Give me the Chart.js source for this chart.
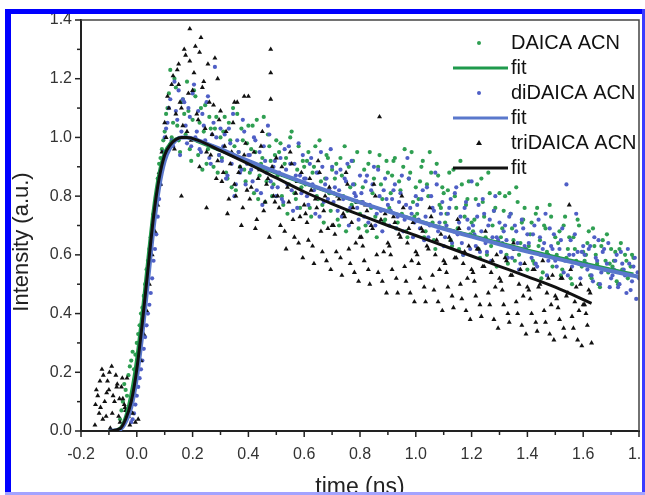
<!DOCTYPE html>
<html><head><meta charset="utf-8">
<script src="https://cdn.jsdelivr.net/npm/chart.js@4/dist/chart.umd.min.js"></script>
<style>html,body{margin:0;padding:0;background:#fff}#wrap{position:relative;width:645px;height:495px}</style>
</head><body><div id="wrap"><canvas id="c" width="645" height="495"></canvas></div>
<script>
// time axis of scan A (ns)
const timeNs = [-0.15,-0.14,-0.13,-0.12,-0.11,-0.10,-0.09,-0.08,-0.07,-0.06,-0.05,-0.04,-0.03,-0.02,-0.01,
0.00,0.01,0.02,0.03,0.04,0.05,0.06,0.07,0.08,0.09,0.10,0.11,0.12,0.13,0.14,0.15,0.16,0.17,0.18,0.19,
0.20,0.21,0.22,0.23,0.24,0.25,0.26,0.27,0.28,0.29,0.30,0.31,0.32,0.33,0.34,0.35,0.36,0.37,0.38,0.39,
0.40,0.41,0.42,0.43,0.44,0.45,0.46,0.47,0.48,0.49,0.50,0.51,0.52,0.53,0.54,0.55,0.56,0.57,0.58,0.59,
0.60,0.61,0.62,0.63,0.64,0.65,0.66,0.67,0.68,0.69,0.70,0.71,0.72,0.73,0.74,0.75,0.76,0.77,0.78,0.79,
0.80,0.81,0.82,0.83,0.84,0.85,0.86,0.87,0.88,0.89,0.90,0.91,0.92,0.93,0.94,0.95,0.96,0.97,0.98,0.99,
1.00,1.01,1.02,1.03,1.04,1.05,1.06,1.07,1.08,1.09,1.10,1.11,1.12,1.13,1.14,1.15,1.16,1.17,1.18,1.19,
1.20,1.21,1.22,1.23,1.24,1.25,1.26,1.27,1.28,1.29,1.30,1.31,1.32,1.33,1.34,1.35,1.36,1.37,1.38,1.39,
1.40,1.41,1.42,1.43,1.44,1.45,1.46,1.47,1.48,1.49,1.50,1.51,1.52,1.53,1.54,1.55,1.56,1.57,1.58,1.59,
1.60,1.61,1.62,1.63,1.64,1.65,1.66,1.67,1.68,1.69,1.70,1.71,1.72,1.73,1.74,1.75,1.76,1.77,1.78,1.79,1.80];

// time axis of scan B (ns)
const timeNsB = [-0.145,-0.135,-0.125,-0.115,-0.105,-0.095,-0.085,-0.075,-0.065,-0.055,-0.045,-0.035,-0.025,-0.015,-0.005,
0.005,0.015,0.025,0.035,0.045,0.055,0.065,0.075,0.085,0.095,0.105,0.115,0.125,0.135,0.145,0.155,0.165,0.175,0.185,0.195,
0.205,0.215,0.225,0.235,0.245,0.255,0.265,0.275,0.285,0.295,0.305,0.315,0.325,0.335,0.345,0.355,0.365,0.375,0.385,0.395,
0.405,0.415,0.425,0.435,0.445,0.455,0.465,0.475,0.485,0.495,0.505,0.515,0.525,0.535,0.545,0.555,0.565,0.575,0.585,0.595,
0.605,0.615,0.625,0.635,0.645,0.655,0.665,0.675,0.685,0.695,0.705,0.715,0.725,0.735,0.745,0.755,0.765,0.775,0.785,0.795,
0.805,0.815,0.825,0.835,0.845,0.855,0.865,0.875,0.885,0.895,0.905,0.915,0.925,0.935,0.945,0.955,0.965,0.975,0.985,0.995,
1.005,1.015,1.025,1.035,1.045,1.055,1.065,1.075,1.085,1.095,1.105,1.115,1.125,1.135,1.145,1.155,1.165,1.175,1.185,1.195,
1.205,1.215,1.225,1.235,1.245,1.255,1.265,1.275,1.285,1.295,1.305,1.315,1.325,1.335,1.345,1.355,1.365,1.375,1.385,1.395,
1.405,1.415,1.425,1.435,1.445,1.455,1.465,1.475,1.485,1.495,1.505,1.515,1.525,1.535,1.545,1.555,1.565,1.575,1.585,1.595,
1.605,1.615,1.625,1.635,1.645,1.655,1.665,1.675,1.685,1.695,1.705,1.715,1.725,1.735,1.745,1.755,1.765,1.775,1.785,1.795];

const daicaACN = [null,null,null,null,null,null,null,null,null,
0.04,0.10,0.14,0.19,0.24,0.21,
0.30,0.36,0.42,0.50,0.58,0.66,0.74,0.80,0.91,0.96,
1.02,1.10,1.23,1.05,1.17,0.99,1.12,1.08,1.19,0.96,
1.06,1.14,0.94,1.10,1.02,0.91,1.07,0.97,1.03,0.88,1.00,
1.02,0.88,1.05,0.83,0.97,1.08,0.90,0.99,0.85,1.04,
0.96,0.81,1.06,0.87,0.93,0.78,1.01,0.92,0.84,0.99,
0.95,0.80,0.91,0.74,1.00,0.86,0.79,0.97,0.83,0.90,
0.92,0.76,0.88,0.97,0.79,0.85,0.71,0.94,0.81,0.89,
0.86,0.72,0.93,0.80,0.68,0.90,0.77,0.84,0.95,0.74,
0.83,0.70,0.91,0.76,0.86,0.66,0.94,0.79,0.72,0.88,
0.81,0.92,0.69,0.85,0.74,0.96,0.66,0.88,0.78,0.83,
0.79,0.90,0.66,0.84,0.95,0.71,0.62,0.87,0.76,0.81,
0.74,0.88,0.63,0.80,0.69,0.92,0.60,0.77,0.85,0.71,
0.72,0.84,0.59,0.78,0.66,0.88,0.63,0.75,0.56,0.81,
0.69,0.80,0.57,0.74,0.65,0.83,0.60,0.71,0.76,0.55,
0.67,0.58,0.74,0.63,0.52,0.70,0.61,0.77,0.56,0.66,
0.64,0.53,0.70,0.59,0.66,0.50,0.62,0.72,0.57,0.61,
0.60,0.68,0.52,0.63,0.57,0.49,0.65,0.58,0.54,0.62,
0.58,0.51,0.62,0.55,0.60,0.52,0.56,0.59,null,null];

const daicaACN_B = [null,null,null,null,null,null,null,null,null,
0.07,0.16,0.12,0.22,0.27,0.26,0.33,0.40,0.46,0.55,
0.62,0.70,0.78,0.86,0.93,0.99,1.08,1.15,1.00,1.20,
1.04,0.95,1.13,1.01,1.09,0.92,1.16,0.99,1.05,0.89,
1.11,0.96,1.03,0.90,1.07,0.94,
0.93,1.07,0.86,0.99,1.10,0.82,0.95,1.03,0.89,0.98,
0.88,1.04,0.95,0.79,0.91,1.07,0.85,0.97,0.80,0.94,
0.87,0.98,0.77,0.93,0.84,1.02,0.81,0.89,0.76,0.92,
0.84,0.95,0.73,0.90,0.80,0.99,0.77,0.86,0.93,0.75,
0.81,0.91,0.70,0.87,0.97,0.75,0.83,0.92,0.78,0.69,
0.78,0.89,0.68,0.95,0.81,0.73,0.90,0.84,0.71,0.92,
0.76,0.87,0.93,0.71,0.82,0.90,0.68,0.86,0.95,0.73,
0.74,0.85,0.92,0.68,0.80,0.88,0.65,0.91,0.77,0.83,
0.71,0.82,0.65,0.89,0.76,0.62,0.84,0.73,0.79,0.67,
0.68,0.79,0.62,0.86,0.73,0.60,0.81,0.70,0.76,0.64,
0.66,0.75,0.60,0.81,0.69,0.58,0.78,0.64,0.72,0.62,
0.63,0.71,0.57,0.76,0.65,0.54,0.69,0.60,0.73,0.59,
0.60,0.68,0.55,0.73,0.62,0.52,0.66,0.58,0.70,0.56,
0.58,0.64,0.53,0.69,0.60,0.50,0.63,0.55,0.67,0.57,
0.56,0.61,0.50,0.64,0.54,0.58,0.53,0.60,null,null];

const diDaicaACN = [null,null,null,null,null,null,null,null,null,null,null,null,null,
0.03,0.06,
0.12,0.18,0.24,0.32,0.40,0.47,0.58,0.67,0.79,0.90,
1.00,1.05,1.13,0.97,1.09,1.16,1.02,1.12,0.98,1.07,
1.15,1.00,1.09,0.95,1.04,1.12,0.93,1.01,1.24,0.96,1.03,
0.97,0.86,1.03,0.91,0.80,0.99,0.88,1.06,0.84,0.94,
0.89,1.00,0.82,0.95,0.77,0.92,1.04,0.85,0.90,0.80,
0.88,0.79,0.96,0.84,0.91,0.75,0.87,0.98,0.81,0.86,
0.80,0.91,0.84,0.74,0.88,0.95,0.78,0.86,0.82,0.90,
0.83,0.75,0.89,0.79,0.85,0.70,0.92,0.81,0.76,0.87,
0.78,0.85,0.71,0.82,0.90,0.74,0.80,0.68,0.86,0.77,
0.75,0.82,0.69,0.78,0.87,0.72,0.93,0.76,0.66,0.80,
0.72,0.79,0.65,0.83,0.70,0.76,0.88,0.68,0.74,0.63,
0.70,0.76,0.64,0.81,0.67,0.73,0.60,0.78,0.69,0.85,
0.67,0.73,0.61,0.79,0.64,0.70,0.58,0.75,0.66,0.71,
0.64,0.70,0.59,0.74,0.62,0.68,0.55,0.72,0.63,0.67,
0.61,0.67,0.57,0.72,0.60,0.64,0.53,0.69,0.62,0.58,
0.59,0.65,0.54,0.84,0.60,0.56,0.67,0.61,0.52,0.63,
0.57,0.62,0.53,0.66,0.58,0.50,0.61,0.55,0.64,0.52,
0.55,0.60,0.50,0.57,0.53,0.62,0.48,0.56,0.45,0.52];

const diDaicaACN_B = [null,null,null,null,null,null,null,null,null,null,null,null,null,
0.04,0.09,0.15,0.21,0.28,0.36,0.43,0.52,0.62,0.73,
0.84,0.95,1.03,1.10,0.99,1.19,1.06,0.94,1.13,1.04,
1.10,0.97,1.18,1.02,0.96,1.08,0.99,1.14,0.91,1.05,
1.00,0.94,
0.92,1.01,0.87,0.98,1.08,0.84,0.95,0.89,1.02,0.91,
0.94,0.85,0.99,0.90,0.81,0.97,0.88,1.01,0.83,0.92,
0.83,0.93,0.78,0.89,0.97,0.82,0.91,0.76,0.87,0.94,
0.86,0.77,0.93,0.82,0.88,0.73,0.90,0.84,0.79,0.96,
0.78,0.88,0.82,0.73,0.86,0.91,0.76,0.84,0.80,0.72,
0.81,0.73,0.87,0.77,0.84,0.70,0.89,0.75,0.82,0.79,
0.70,0.79,0.84,0.73,0.81,0.68,0.77,0.86,0.74,0.71,
0.77,0.69,0.82,0.73,0.66,0.80,0.75,0.84,0.71,0.78,
0.66,0.74,0.79,0.68,0.83,0.71,0.64,0.76,0.72,0.62,
0.70,0.63,0.77,0.68,0.74,0.61,0.72,0.66,0.80,0.65,
0.61,0.68,0.65,0.73,0.59,0.70,0.64,0.57,0.69,0.62,
0.64,0.59,0.70,0.56,0.66,0.62,0.74,0.58,0.63,0.67,
0.56,0.62,0.69,0.58,0.53,0.65,0.60,0.74,0.57,0.61,
0.60,0.55,0.63,0.51,0.59,0.65,0.54,0.62,0.57,0.49,
0.53,0.58,0.49,0.61,0.55,0.47,0.57,0.51,0.59,0.54];

const triDaicaACN = [0.02,0.12,0.08,0.19,0.05,0.14,0.22,0.10,0.16,0.03,0.11,0.07,0.05,0.09,0.13,
0.20,0.30,0.38,0.47,0.56,0.63,0.74,0.80,0.88,0.95,
1.05,1.14,0.98,1.21,1.08,1.25,1.10,1.30,1.02,1.37,
1.16,1.31,1.06,1.34,1.19,0.95,1.12,1.01,1.27,0.92,1.09,
0.88,1.02,0.79,0.95,0.84,1.12,0.90,0.76,0.98,1.14,
0.83,0.95,0.72,0.89,1.02,0.78,0.86,1.30,0.80,0.93,
0.76,0.90,0.68,0.83,0.95,0.72,0.81,0.64,0.88,0.77,
0.71,0.86,0.63,0.79,0.92,0.68,0.75,0.58,0.83,0.70,
0.67,0.80,0.59,0.74,0.88,0.62,0.71,0.54,0.78,0.66,
0.63,0.77,0.55,0.70,0.84,0.60,1.07,0.51,0.74,0.64,
0.60,0.73,0.52,0.67,0.80,0.56,0.64,0.47,0.71,0.61,
0.57,0.69,0.49,0.63,0.76,0.53,0.60,0.44,0.67,0.58,
0.54,0.66,0.46,0.59,0.72,0.50,0.57,0.41,0.63,0.55,
0.51,0.62,0.43,0.56,0.68,0.47,0.54,0.38,0.60,0.52,
0.48,0.59,0.40,0.53,0.64,0.44,0.50,0.36,0.57,0.49,
0.45,0.55,0.37,0.49,0.60,0.41,0.47,0.33,0.53,0.46,
0.42,0.52,0.35,0.46,0.77,0.39,0.44,0.31,0.50,0.43,
0.40,0.48,0.30,null,null,null,null,null,null,null,null,null,null,null,null,null,null,null,null,null,null];

const triDaicaACN_B = [0.14,0.06,0.21,0.10,0.17,0.01,0.12,0.19,0.05,0.15,0.09,0.18,0.02,0.06,0.03,
0.04,0.24,0.33,0.41,0.50,0.60,0.68,0.77,0.84,0.92,
1.00,1.10,1.18,0.96,1.23,1.12,1.04,1.28,1.15,0.99,
1.22,1.08,0.90,1.17,1.03,1.25,0.94,1.11,0.86,1.06,
0.85,0.97,0.74,0.91,1.05,0.80,0.88,0.70,0.94,0.82,
0.79,0.91,0.69,0.86,0.97,0.75,0.84,0.66,0.90,0.78,
0.80,0.70,0.87,0.62,0.78,0.91,0.66,0.85,0.73,0.59,
0.74,0.65,0.82,0.57,0.76,0.88,0.61,0.80,0.69,0.55,
0.70,0.61,0.79,0.53,0.73,0.84,0.57,0.76,0.64,0.51,
0.66,0.58,0.75,0.50,0.69,0.80,0.54,0.72,0.61,0.47,
0.63,0.55,0.71,0.47,0.66,0.76,0.51,0.69,0.58,0.44,
0.60,0.52,0.68,0.44,0.62,0.73,0.48,0.65,0.55,0.41,
0.57,0.49,0.65,0.42,0.59,0.69,0.45,0.61,0.52,0.38,
0.54,0.46,0.62,0.39,0.56,0.65,0.43,0.58,0.49,0.35,
0.51,0.43,0.58,0.37,0.53,0.62,0.40,0.55,0.46,0.33,
0.48,0.40,0.55,0.34,0.50,0.58,0.37,0.52,0.43,0.31,
0.45,0.38,0.52,0.32,0.47,0.55,0.35,0.49,0.41,0.29,
0.43,0.36,0.47,null,null,null,null,null,null,null,null,null,null,null,null,null,null,null,null,null];

// additional triDAICA readings (baseline noise and outliers)
const triExtraT = [-0.148,-0.132,-0.122,-0.108,-0.098,-0.088,-0.072,-0.062,-0.052,-0.042,0.15,0.16,0.19,0.225,0.25,0.29,0.35,0.385,0.48,0.48];
const triExtraI = [0.09,0.17,0.04,0.13,0.20,0.06,0.15,0.11,0.18,0.08,1.18,0.80,1.26,1.29,0.76,1.20,1.12,1.14,1.22,1.13];

// fitted curves
const daicaFitT = [-0.10,-0.06,-0.04,-0.02,0.00,0.02,0.04,0.06,0.08,0.10,0.12,0.14,0.16,0.18,0.22,0.30,0.40,0.50,0.60,0.70,0.80,0.90,1.00,1.10,1.20,1.30,1.40,1.50,1.60,1.70,1.78];
const daicaFit  = [0.00,0.01,0.05,0.13,0.25,0.41,0.59,0.76,0.88,0.95,0.98,0.995,1.00,1.00,0.985,0.955,0.915,0.878,0.843,0.810,0.778,0.748,0.720,0.692,0.666,0.641,0.617,0.594,0.572,0.551,0.535];
const diDaicaFitT = [-0.10,-0.06,-0.04,-0.02,0.00,0.02,0.04,0.06,0.08,0.10,0.12,0.14,0.16,0.18,0.22,0.30,0.40,0.50,0.60,0.70,0.80,0.90,1.00,1.10,1.20,1.30,1.40,1.50,1.60,1.70,1.80];
const diDaicaFit  = [0.00,0.005,0.03,0.08,0.18,0.33,0.51,0.69,0.83,0.92,0.965,0.99,1.00,1.00,0.99,0.96,0.92,0.882,0.846,0.812,0.779,0.748,0.718,0.689,0.662,0.636,0.611,0.588,0.566,0.545,0.525];
const triDaicaFitT = [-0.10,-0.06,-0.04,-0.02,0.00,0.02,0.04,0.06,0.08,0.10,0.12,0.14,0.16,0.18,0.22,0.30,0.40,0.50,0.60,0.70,0.80,0.90,1.00,1.10,1.20,1.30,1.40,1.50,1.63];
const triDaicaFit  = [0.00,0.008,0.04,0.10,0.21,0.37,0.55,0.73,0.86,0.94,0.975,0.993,1.00,1.00,0.99,0.955,0.91,0.862,0.815,0.774,0.736,0.700,0.666,0.631,0.596,0.561,0.526,0.490,0.435];

const seriesLabels = ['DAICA ACN','fit','diDAICA ACN','fit','triDAICA ACN','fit'];
const xTicks = [-0.2,0.0,0.2,0.4,0.6,0.8,1.0,1.2,1.4,1.6,1.8];
const xMinorTicks = [-0.1,0.1,0.3,0.5,0.7,0.9,1.1,1.3,1.5,1.7];
const yTicks = [0.0,0.2,0.4,0.6,0.8,1.0,1.2,1.4];
const yMinorTicks = [0.1,0.3,0.5,0.7,0.9,1.1,1.3];
const xTitle = 'time (ns)';
const yTitle = 'Intensity (a.u.)';

function pts(ts, vs){ const out=[]; ts.forEach((t,i)=>{ if(vs[i]!==null && vs[i]!==undefined) out.push({x:t,y:vs[i]}); }); return out; }

const GREEN='#2f9f52', GREEN_FIT='#1f9a4c', BLUE='#4f5fc6', BLUE_FIT='#5a78cc', BLACK='#111111';
const FONT='"Liberation Sans", Arial, Helvetica, sans-serif';

const decor = {
  id:'decor',
  afterDraw(chart){
    const {ctx, chartArea:a, scales:{x,y}} = chart;
    ctx.save();
    ctx.strokeStyle='#444'; ctx.lineWidth=1.5;
    ctx.beginPath(); ctx.moveTo(a.left,a.top); ctx.lineTo(a.right,a.top); ctx.lineTo(a.right,a.bottom); ctx.stroke();
    ctx.strokeStyle='#222'; ctx.lineWidth=1.5;
    const seg=(x1,y1,x2,y2)=>{ctx.beginPath();ctx.moveTo(x1,y1);ctx.lineTo(x2,y2);ctx.stroke();};
    xTicks.forEach(v=>{const p=x.getPixelForValue(v); seg(p,a.bottom,p,a.bottom+6);});
    xMinorTicks.forEach(v=>{const p=x.getPixelForValue(v); seg(p,a.bottom,p,a.bottom+4);});
    yTicks.forEach(v=>{const p=y.getPixelForValue(v); seg(a.left-6,p,a.left,p);});
    yMinorTicks.forEach(v=>{const p=y.getPixelForValue(v); seg(a.left-4,p,a.left,p);});
    // legend
    const ds = chart.data.datasets.filter(d=>!d.hideInLegend);
    ctx.font = '20px '+FONT; ctx.textBaseline='middle'; ctx.textAlign='left';
    ds.forEach((d,i)=>{
      const ry = 43 + i*25;
      if(d.showLine){
        ctx.strokeStyle=d.borderColor; ctx.lineWidth=3;
        seg(453,ry,508,ry);
      } else if(d.pointStyle==='triangle'){
        ctx.fillStyle=d.backgroundColor;
        ctx.beginPath(); ctx.moveTo(479,ry-3); ctx.lineTo(482,ry+2); ctx.lineTo(476,ry+2); ctx.closePath(); ctx.fill();
      } else {
        ctx.fillStyle=d.backgroundColor;
        ctx.beginPath(); ctx.arc(479,ry,2,0,Math.PI*2); ctx.fill();
      }
      ctx.fillStyle='#111';
      ctx.fillText(d.label, 511, ry);
    });
    // axis titles
    ctx.fillStyle='#222';
    ctx.font='23px '+FONT; ctx.textAlign='center'; ctx.textBaseline='alphabetic';
    ctx.fillText(xTitle, (a.left+a.right)/2, 494);
    ctx.save(); ctx.translate(28,242); ctx.rotate(-Math.PI/2);
    ctx.font='22px '+FONT; ctx.fillText(yTitle,0,0); ctx.restore();
    // outer blue frame
    ctx.fillStyle='#0000ff';
    ctx.fillRect(5,9,6,486);
    ctx.fillRect(5,9,640,5);
    ctx.fillStyle='#3b3bff';
    ctx.fillRect(642,9,3,486);
    ctx.fillStyle='#a3a3ff';
    ctx.fillRect(5,492,640,3);
    ctx.restore();
  }
};

new Chart(document.getElementById('c'), {
  type:'scatter',
  data:{datasets:[
    {label:seriesLabels[0], data:pts(timeNs,daicaACN).concat(pts(timeNsB,daicaACN_B)), pointStyle:'circle', pointRadius:2.1, backgroundColor:GREEN, borderColor:GREEN, borderWidth:0, order:5},
    {label:seriesLabels[1], type:'line', data:pts(daicaFitT,daicaFit), showLine:true, borderColor:GREEN_FIT, borderWidth:3, pointRadius:0, fill:false, cubicInterpolationMode:'monotone', order:2},
    {label:seriesLabels[2], data:pts(timeNs,diDaicaACN).concat(pts(timeNsB,diDaicaACN_B)), pointStyle:'circle', pointRadius:2.1, backgroundColor:BLUE, borderColor:BLUE, borderWidth:0, order:4},
    {label:seriesLabels[3], type:'line', data:pts(diDaicaFitT,diDaicaFit), showLine:true, borderColor:BLUE_FIT, borderWidth:4, pointRadius:0, fill:false, cubicInterpolationMode:'monotone', order:1},
    {label:seriesLabels[4], data:pts(timeNs,triDaicaACN).concat(pts(timeNsB,triDaicaACN_B), pts(triExtraT,triExtraI)), pointStyle:'triangle', pointRadius:2.9, backgroundColor:BLACK, borderColor:BLACK, borderWidth:0, order:3},
    {label:seriesLabels[5], type:'line', data:pts(triDaicaFitT,triDaicaFit), showLine:true, borderColor:BLACK, borderWidth:3, pointRadius:0, fill:false, cubicInterpolationMode:'monotone', order:0}
  ]},
  options:{
    responsive:false, animation:false, devicePixelRatio:1,
    layout:{padding:{left:0,top:20,right:6,bottom:0}, autoPadding:false},
    plugins:{legend:{display:false}, tooltip:{enabled:false}},
    scales:{
      x:{type:'linear', min:-0.2, max:1.8,
         afterBuildTicks:s=>{s.ticks=xTicks.map(v=>({value:v}));},
         afterFit:s=>{s.height=64; s.paddingLeft=0; s.paddingRight=0;},
         grid:{display:false, drawTicks:false},
         border:{display:true, color:'#222', width:2},
         ticks:{padding:14, color:'#333', font:{family:FONT, size:16}, maxRotation:0, autoSkip:false, callback:v=>Number(v).toFixed(1)}},
      y:{type:'linear', min:0, max:1.4,
         afterBuildTicks:s=>{s.ticks=yTicks.map(v=>({value:v}));},
         afterFit:s=>{s.width=81; s.paddingTop=0; s.paddingBottom=0;},
         grid:{display:false, drawTicks:false},
         border:{display:true, color:'#222', width:2},
         ticks:{padding:9, color:'#333', font:{family:FONT, size:16}, callback:v=>Number(v).toFixed(1)}}
    }
  },
  plugins:[decor]
});
</script></body></html>
